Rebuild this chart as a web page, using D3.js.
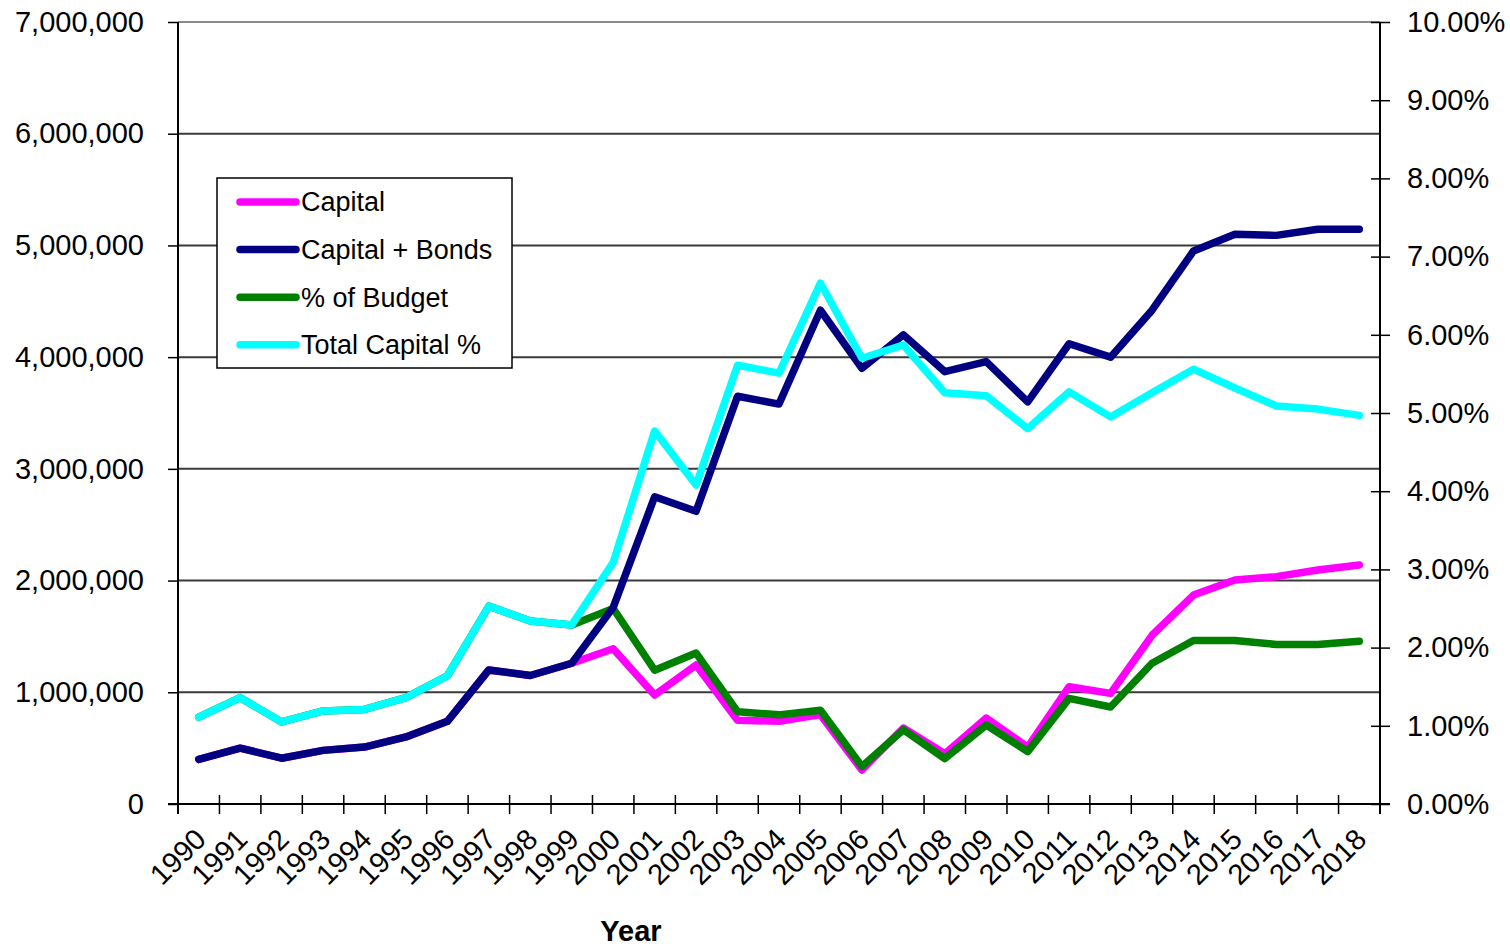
<!DOCTYPE html>
<html>
<head>
  <meta charset="utf-8">
  <title>Capital, Bonds and Budget Share by Year</title>
  <style>
    body { margin: 0; background: #fff; }
    svg text { font-family: "Liberation Sans", Arial, sans-serif; fill: #000; }
  </style>
</head>
<body>
  <script src="https://cdn.jsdelivr.net/npm/d3@7"></script>
  <script>
    // chart data
    const years = d3.range(1990, 2019);

    const capital = [400000, 500000, 410000, 480000, 510000, 600000, 740000, 1200000, 1150000, 1260000,
      1390000, 975000, 1245000, 750000, 740000, 800000, 305000, 680000, 450000, 770000,
      510000, 1050000, 990000, 1510000, 1870000, 2005000, 2035000, 2095000, 2140000];

    const capitalBonds = [400000, 500000, 410000, 480000, 510000, 600000, 740000, 1200000, 1150000, 1260000,
      1760000, 2750000, 2620000, 3650000, 3580000, 4420000, 3900000, 4200000, 3870000, 3960000,
      3600000, 4120000, 4000000, 4420000, 4950000, 5100000, 5090000, 5145000, 5145000];

    const pctBudget = [1.11, 1.36, 1.05, 1.19, 1.21, 1.36, 1.64, 2.53, 2.34, 2.29,
      2.50, 1.71, 1.93, 1.18, 1.14, 1.20, 0.48, 0.95, 0.58, 1.01,
      0.67, 1.35, 1.24, 1.80, 2.09, 2.09, 2.04, 2.04, 2.08];

    const totalCapitalPct = [1.11, 1.36, 1.05, 1.19, 1.21, 1.36, 1.64, 2.53, 2.34, 2.29,
      3.09, 4.77, 4.08, 5.61, 5.51, 6.66, 5.70, 5.87, 5.26, 5.22,
      4.80, 5.27, 4.95, 5.26, 5.56, 5.32, 5.09, 5.05, 4.97];

    const leftTicks = d3.range(0, 7000001, 1000000);
    const rightTicks = d3.range(0, 10.01, 1);

    // series: name, values, colour, which axis
    const series = [
      { name: "Capital", values: capital, color: "#ff00ff", axis: "left" },
      { name: "Capital + Bonds", values: capitalBonds, color: "#000080", axis: "left" },
      { name: "% of Budget", values: pctBudget, color: "#008000", axis: "right" },
      { name: "Total Capital %", values: totalCapitalPct, color: "#00ffff", axis: "right" }
    ];
    // drawing order seen in the picture (later = on top)
    const drawOrder = ["Capital", "% of Budget", "Capital + Bonds", "Total Capital %"];

    // layout
    const W = 1510, H = 947;
    const plot = { left: 178, right: 1380, top: 22, bottom: 804 };

    const svg = d3.select("body").append("svg")
      .attr("width", W)
      .attr("height", H);

    const x = d3.scaleBand().domain(years).range([plot.left, plot.right]).paddingInner(0).paddingOuter(0);
    const yLeft = d3.scaleLinear().domain([0, 7000000]).range([plot.bottom, plot.top]);
    const yRight = d3.scaleLinear().domain([0, 10]).range([plot.bottom, plot.top]);

    // gridlines at left major ticks
    svg.append("g")
      .selectAll("line")
      .data(leftTicks.filter(d => d > 0 && d < 7000000))
      .join("line")
      .attr("x1", plot.left).attr("x2", plot.right)
      .attr("y1", d => yLeft(d)).attr("y2", d => yLeft(d))
      .attr("stroke", "#3a3a3a")
      .attr("stroke-width", 2);

    // top border of plot area
    svg.append("line")
      .attr("x1", plot.left).attr("x2", plot.right)
      .attr("y1", plot.top).attr("y2", plot.top)
      .attr("stroke", "#8a8a8a")
      .attr("stroke-width", 2);

    // left axis
    const leftAxis = svg.append("g")
      .attr("transform", `translate(${plot.left},0)`)
      .call(d3.axisLeft(yLeft).tickValues(leftTicks).tickSize(10).tickPadding(24).tickFormat(d3.format(",")));

    // right axis (ticks cross the line)
    const rightAxis = svg.append("g")
      .attr("transform", `translate(${plot.right},0)`)
      .call(d3.axisRight(yRight).tickValues(rightTicks).tickSize(10).tickPadding(17).tickFormat(d => d.toFixed(2) + "%"));
    rightAxis.selectAll(".tick line").attr("x1", -9);

    // bottom axis: ticks sit between categories and cross the line
    const xAxis = svg.append("g")
      .attr("transform", `translate(0,${plot.bottom})`);
    xAxis.append("line")
      .attr("x1", plot.left - 10).attr("x2", plot.right + 10)
      .attr("stroke", "#000").attr("stroke-width", 2);
    const bounds = years.map(d => x(d)).concat([x(years[years.length - 1]) + x.bandwidth()]);
    xAxis.selectAll(".btick")
      .data(bounds)
      .join("line")
      .attr("class", "btick")
      .attr("x1", d => d).attr("x2", d => d)
      .attr("y1", -9).attr("y2", 10)
      .attr("stroke", "#000").attr("stroke-width", 1.5);
    xAxis.selectAll(".ylabel")
      .data(years)
      .join("text")
      .attr("class", "ylabel")
      .attr("text-anchor", "end")
      .attr("font-size", 29)
      .attr("transform", d => `translate(${x(d) + x.bandwidth() / 2 + 9},37) rotate(-45)`)
      .text(d => d);

    // axis styling
    [leftAxis, rightAxis].forEach(g => {
      g.select(".domain").attr("stroke", "#000").attr("stroke-width", 2);
      g.selectAll(".tick line").attr("stroke", "#000").attr("stroke-width", 1.5);
      g.selectAll(".tick text").attr("font-size", 29).attr("font-family", "Liberation Sans, Arial, sans-serif");
    });
    // extend vertical axis lines down to the bottom ticks
    leftAxis.select(".domain").attr("d", `M0,${plot.top}V${plot.bottom + 10}`);
    rightAxis.select(".domain").attr("d", `M0,${plot.top}V${plot.bottom + 10}`);

    // x axis title
    svg.append("text")
      .attr("x", 631)
      .attr("y", 941)
      .attr("text-anchor", "middle")
      .attr("font-size", 29)
      .attr("font-weight", "bold")
      .text("Year");

    // lines
    const cx = d => x(d) + x.bandwidth() / 2;
    drawOrder.forEach(name => {
      const s = series.find(t => t.name === name);
      const yScale = s.axis === "left" ? yLeft : yRight;
      const line = d3.line()
        .x((v, i) => cx(years[i]))
        .y(v => yScale(v));
      svg.append("path")
        .datum(s.values)
        .attr("fill", "none")
        .attr("stroke", s.color)
        .attr("stroke-width", 7.5)
        .attr("stroke-linejoin", "round")
        .attr("stroke-linecap", "round")
        .attr("d", line);
    });

    // legend
    const legend = svg.append("g");
    legend.append("rect")
      .attr("x", 217).attr("y", 178)
      .attr("width", 295).attr("height", 190)
      .attr("fill", "#fff")
      .attr("stroke", "#000")
      .attr("stroke-width", 1.5);
    const rows = legend.selectAll(".row")
      .data(series)
      .join("g")
      .attr("class", "row")
      .attr("transform", (d, i) => `translate(0,${202 + i * 47.6})`);
    rows.append("line")
      .attr("x1", 240).attr("x2", 296)
      .attr("stroke", d => d.color)
      .attr("stroke-width", 7.5)
      .attr("stroke-linecap", "round");
    rows.append("text")
      .attr("x", 301)
      .attr("dy", "0.35em")
      .attr("font-size", 27)
      .text(d => d.name);
  </script>
</body>
</html>
